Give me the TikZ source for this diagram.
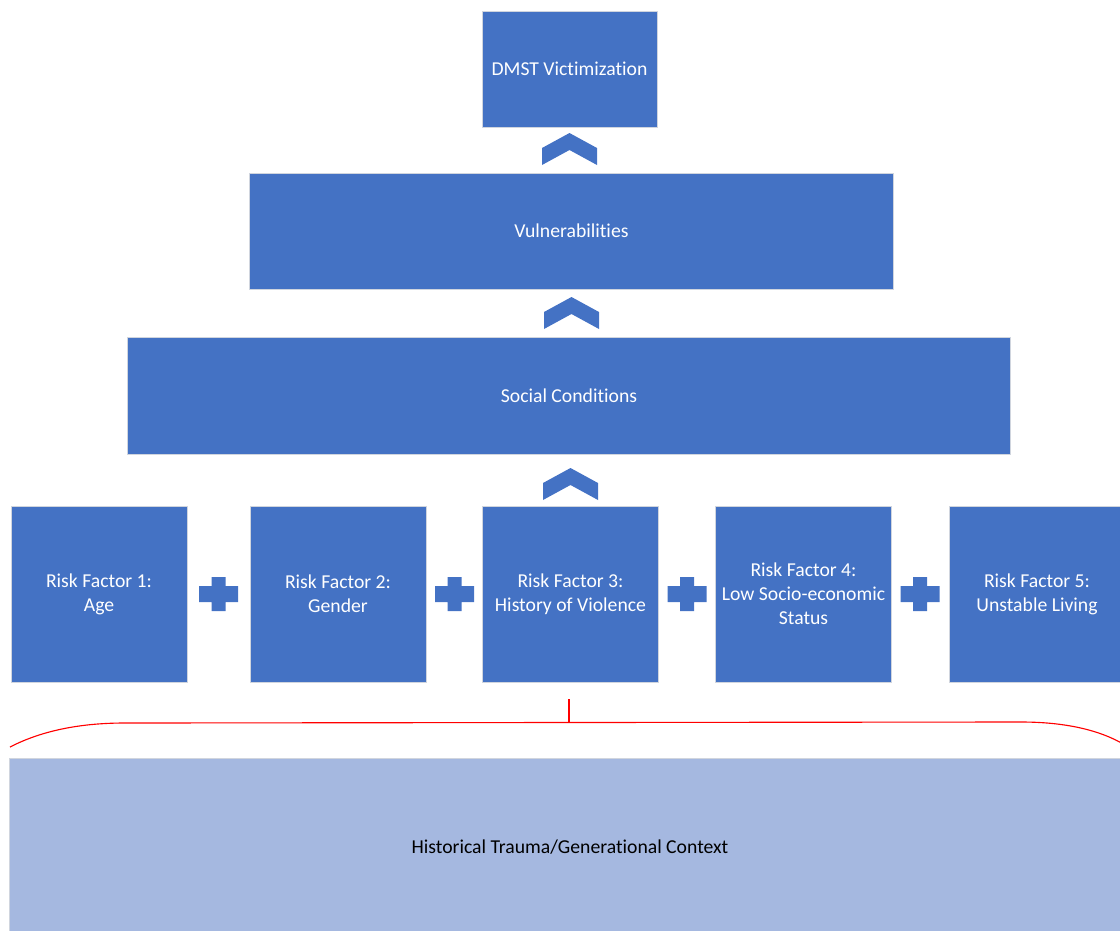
\documentclass[tikz,border=0pt]{standalone}
\usepackage{fontspec}
\setmainfont[Ligatures={NoCommon}]{Carlito}
\definecolor{boxblue}{HTML}{4472C4}
\definecolor{lightblue}{HTML}{A5B8E0}
\definecolor{edgegray}{HTML}{D0D5DE}

\begin{document}
\begin{tikzpicture}[x=0.025cm,y=-0.025cm,
	block/.style={draw=edgegray,line width=0.6pt,fill=boxblue,text=white,align=center,font=\fontsize{14}{17}\selectfont,inner sep=0pt},
	risk/.style={block,minimum width=4.4cm,minimum height=4.4cm},
	chevron/.pic={\fill[boxblue] (-27.5,15) -- (0,0) -- (27.5,15) -- (27.5,32) -- (0,17) -- (-27.5,32) -- cycle;},
	plus/.pic={\fill[boxblue] (-7,-17) -- (7,-17) -- (7,-8) -- (19.5,-8) -- (19.5,8) -- (7,8) -- (7,17) -- (-7,17) -- (-7,8) -- (-19.5,8) -- (-19.5,-8) -- (-7,-8) -- cycle;},
	bracered/.style={draw=red,line width=0.8pt}]
		\useasboundingbox (0,0) rectangle (1120,930);
		\clip (0,0) rectangle (1120,930);

		\node[block,minimum width=4.375cm,minimum height=2.9cm] at (569.5,69) (dmst) {DMST Victimization};
		\node[block,minimum width=16.075cm,minimum height=2.9cm] at (571.5,231) (vuln) {Vulnerabilities};
		\node[block,minimum width=22.05cm,minimum height=2.925cm] at (569,395.5) (social) {Social Conditions};

		\node[risk] at (99,594) (rf1) {Risk Factor 1:\\Age};
		\node[risk] at (338,594) (rf2) {Risk Factor 2:\\Gender};
		\node[risk] at (570.5,594) (rf3) {Risk Factor 3:\\History of Violence};
		\node[risk] at (803.5,594) (rf4) {Risk Factor 4:\\Low Socio-economic\\Status};
		\node[risk] at (1037,594) (rf5) {Risk Factor 5:\\Unstable Living};

		\node[block,fill=lightblue,text=black,minimum width=28cm,minimum height=4.45cm] at (570,847) (trauma) {Historical Trauma/Generational Context};

		% arrows up
		\pic at (569.5,133) {chevron};
		\pic at (571.5,297) {chevron};
		\pic at (570.5,468) {chevron};

		% plus signs
		\pic at (218.5,594) {plus};
		\pic at (454.5,594) {plus};
		\pic at (687,594) {plus};
		\pic at (920,594) {plus};

		% brace
		\coordinate (tip) at (569,699);
		\coordinate (mid) at (569,722.5);
		\draw[bracered] (10,747) .. controls (45,729) and (85,723) .. (125,723) -- (mid) -- (1021,722) .. controls (1065,722) and (1100,730) .. (1125,745);
		\draw[bracered] (mid) -- (tip);
	\end{tikzpicture}
\end{document}
